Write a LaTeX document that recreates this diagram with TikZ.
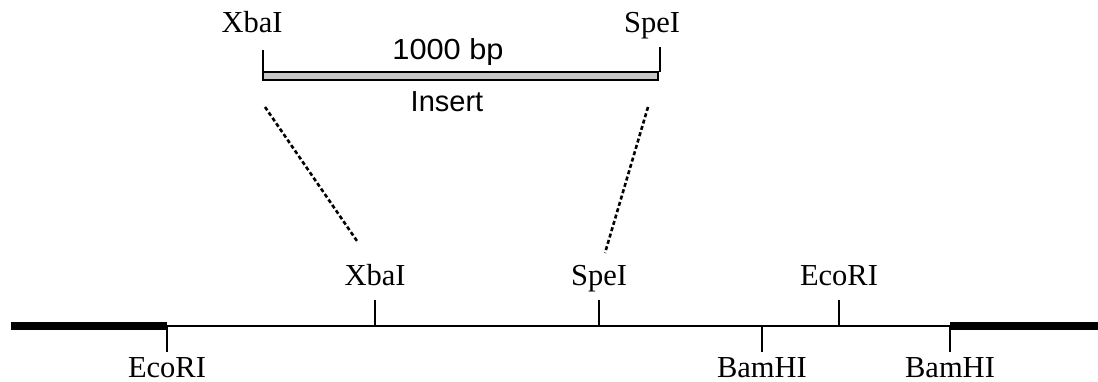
\documentclass[tikz,border=0pt]{standalone}
\usepackage{fontspec}
\setmainfont{Liberation Serif}
\newfontfamily\helv{Liberation Sans}
\begin{document}
\begin{tikzpicture}[x=1pt,y=-1pt,
  site/.style={font=\fontsize{30.5}{36}\selectfont, inner sep=0pt, anchor=base},
  seqlabel/.style={font=\helv\fontsize{29}{34}\selectfont, inner sep=0pt, anchor=base},
  thin/.style={line width=2pt},
  thick/.style={line width=8pt},
  tickmark/.style={line width=2pt},
  guide/.style={line width=2.6pt, dash pattern=on 4pt off 2.6pt}]
\useasboundingbox (0,0) rectangle (1098,382);

% vector backbone
\coordinate (left) at (11,326);
\coordinate (ecoL) at (167,326);
\coordinate (xba) at (375,326);
\coordinate (spe) at (599,326);
\coordinate (bam1) at (762,326);
\coordinate (ecoR) at (839,326);
\coordinate (bam2) at (950,326);
\coordinate (right) at (1098,326);

\draw[thin] (ecoL) -- (bam2);
\draw[thick] (left) -- (ecoL);
\draw[thick] (bam2) -- (right);

% restriction sites above the line
\foreach \c/\t in {xba/XbaI, spe/SpeI, ecoR/EcoRI}{
  \draw[tickmark] (\c) -- ++(0,-26);
  \node[site] (\c-lab) at ([yshift=40pt]\c) {\t};
}
% restriction sites below the line (no descenders in these names)
\foreach \c/\t in {ecoL/EcoRI, bam1/BamHI, bam2/BamHI}{
  \draw[tickmark] (\c) -- ++(0,26);
  \node[site, text depth=0pt] (\c-lab) at ([yshift=-51pt]\c) {\t};
}

% insert fragment
\coordinate (insL) at (263,76);
\coordinate (insR) at (658,76);
\draw[line width=2pt, fill={rgb,255:red,200;green,200;blue,200}]
  ([yshift=-4pt]insL) rectangle ([yshift=4pt]insR);
\draw[tickmark] ([yshift=4pt]insL) -- ++(0,-22);
\draw[tickmark] ([xshift=2pt,yshift=4pt]insR) -- ++(0,-25);
\node[site] (topxba) at (252,33) {XbaI};
\node[site] (topspe) at (652,33) {SpeI};
\node[seqlabel, xscale=1.06] (len) at (448,60) {1000 bp};
\node[seqlabel] (ins) at (447,112) {Insert};

% dotted guides from the insert ends to the cloning sites
\coordinate (gL1) at (265,107);
\coordinate (gL2) at (357,241);
\coordinate (gR1) at (648,107);
\coordinate (gR2) at (605,253);
\draw[guide] (gL1) -- (gL2);
\draw[guide] (gR1) -- (gR2);
\end{tikzpicture}
\end{document}
